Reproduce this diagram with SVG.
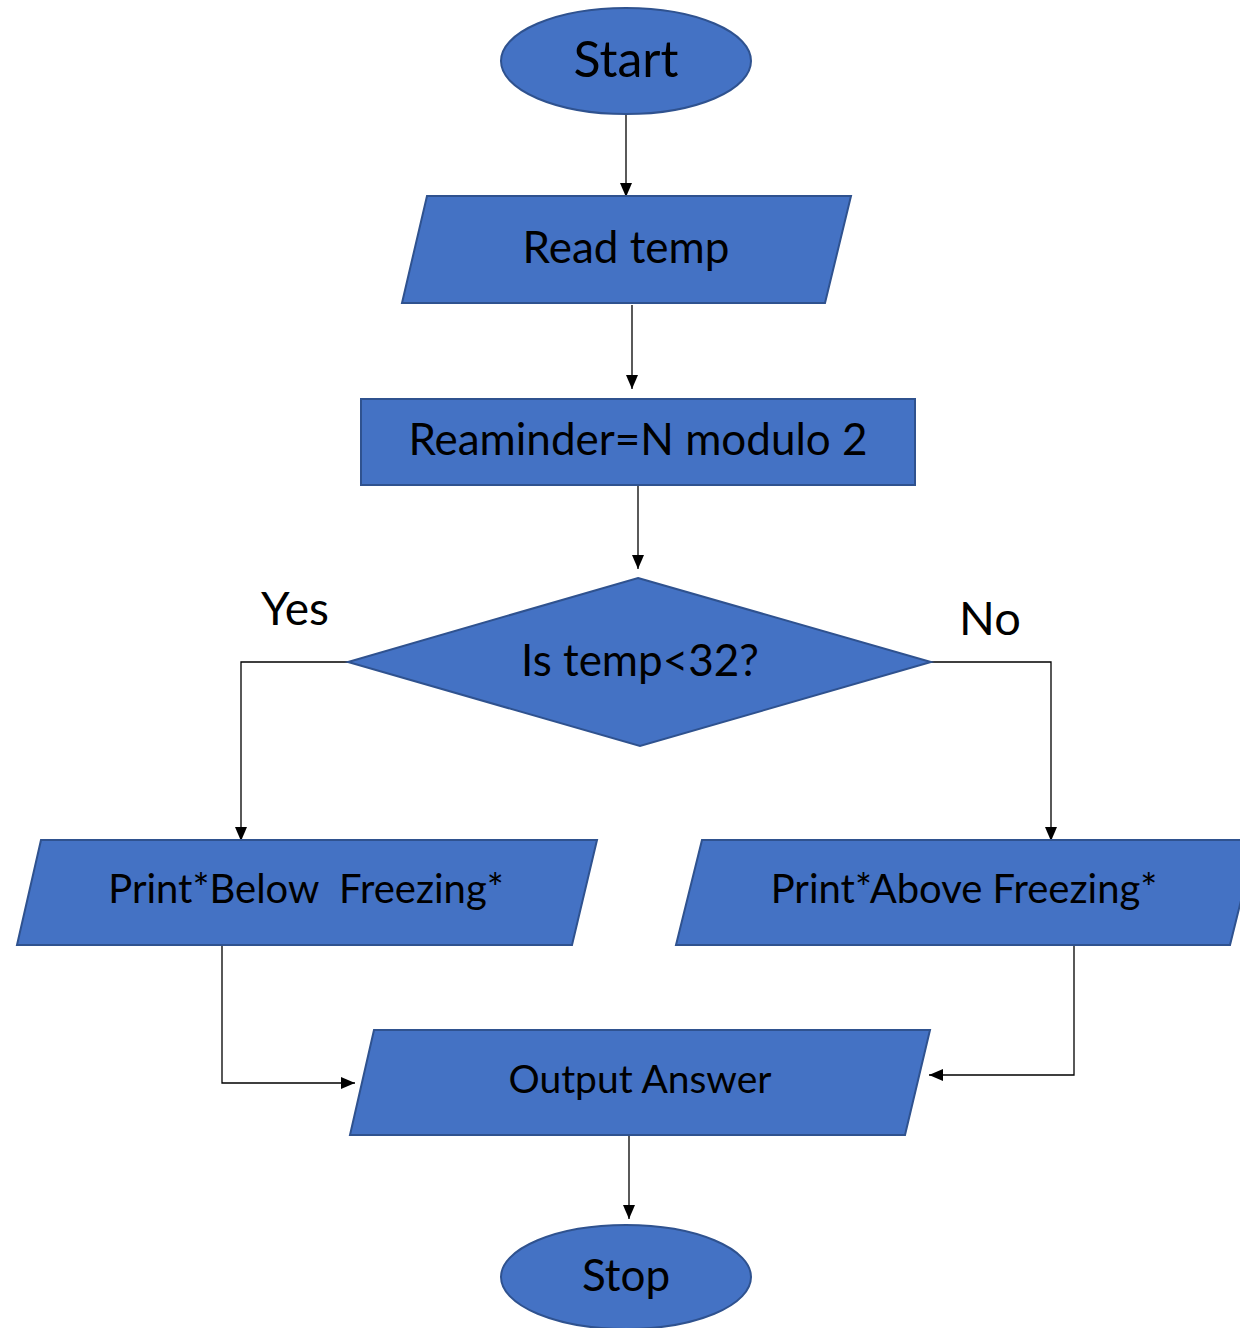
<svg xmlns="http://www.w3.org/2000/svg" width="1240" height="1328" viewBox="0 0 1240 1328">
<style>
.shape{fill:#4472C4;stroke:#2F528F;stroke-width:2}
.lbl{font-family:Lato,"Open Sans","Liberation Sans",sans-serif;fill:#000;text-anchor:middle;dominant-baseline:central}
.conn{fill:none;stroke:#000;stroke-width:1.3}
</style>
<defs>
<marker id="arr" markerWidth="14" markerHeight="14" refX="14" refY="7" orient="auto" markerUnits="userSpaceOnUse" viewBox="0 0 14 14">
<path d="M0,1 L14,7 L0,13 Z" fill="#000"/>
</marker>
</defs>
<rect width="1240" height="1328" fill="#fff"/>
<g id="connectors">
<path class="conn" d="M626,114 V197" marker-end="url(#arr)"/>
<path class="conn" d="M632,305 V389" marker-end="url(#arr)"/>
<path class="conn" d="M638,485 V569" marker-end="url(#arr)"/>
<path class="conn" d="M348,662 H241 V841" marker-end="url(#arr)"/>
<path class="conn" d="M931,662 H1051 V841" marker-end="url(#arr)"/>
<path class="conn" d="M222,945 V1083 H355" marker-end="url(#arr)"/>
<path class="conn" d="M1074,945 V1075 H929" marker-end="url(#arr)"/>
<path class="conn" d="M629,1135 V1219" marker-end="url(#arr)"/>
</g>
<g id="start">
<ellipse class="shape" cx="626" cy="61" rx="125" ry="53"/>
<text class="lbl" x="626" y="58" font-size="50">Start</text>
</g>
<g id="read-temp">
<polygon class="shape" points="427,196 851,196 825,303 402,303"/>
<text class="lbl" x="626" y="246" font-size="44">Read temp</text>
</g>
<g id="remainder">
<rect class="shape" x="361" y="399" width="554" height="86"/>
<text class="lbl" x="638" y="438" font-size="44">Reaminder=N modulo 2</text>
</g>
<g id="decision">
<polygon class="shape" points="638,578 931,662 640,746 348,662"/>
<text class="lbl" x="640" y="659" font-size="44">Is temp&lt;32?</text>
</g>
<g id="yes-label">
<text class="lbl" x="295" y="607" font-size="46">Yes</text>
</g>
<g id="no-label">
<text class="lbl" x="990" y="617" font-size="47">No</text>
</g>
<g id="below">
<polygon class="shape" points="41,840 597,840 572,945 17,945"/>
<text class="lbl" x="306" y="888" font-size="40" xml:space="preserve">Print*Below  Freezing*</text>
</g>
<g id="above">
<polygon class="shape" points="702,840 1256,840 1230,945 676,945"/>
<text class="lbl" x="964" y="888" font-size="40">Print*Above Freezing*</text>
</g>
<g id="output">
<polygon class="shape" points="374,1030 930,1030 905,1135 350,1135"/>
<text class="lbl" x="640" y="1078" font-size="39">Output Answer</text>
</g>
<g id="stop">
<ellipse class="shape" cx="626" cy="1277" rx="125" ry="52"/>
<text class="lbl" x="626" y="1274" font-size="44">Stop</text>
</g>
</svg>
